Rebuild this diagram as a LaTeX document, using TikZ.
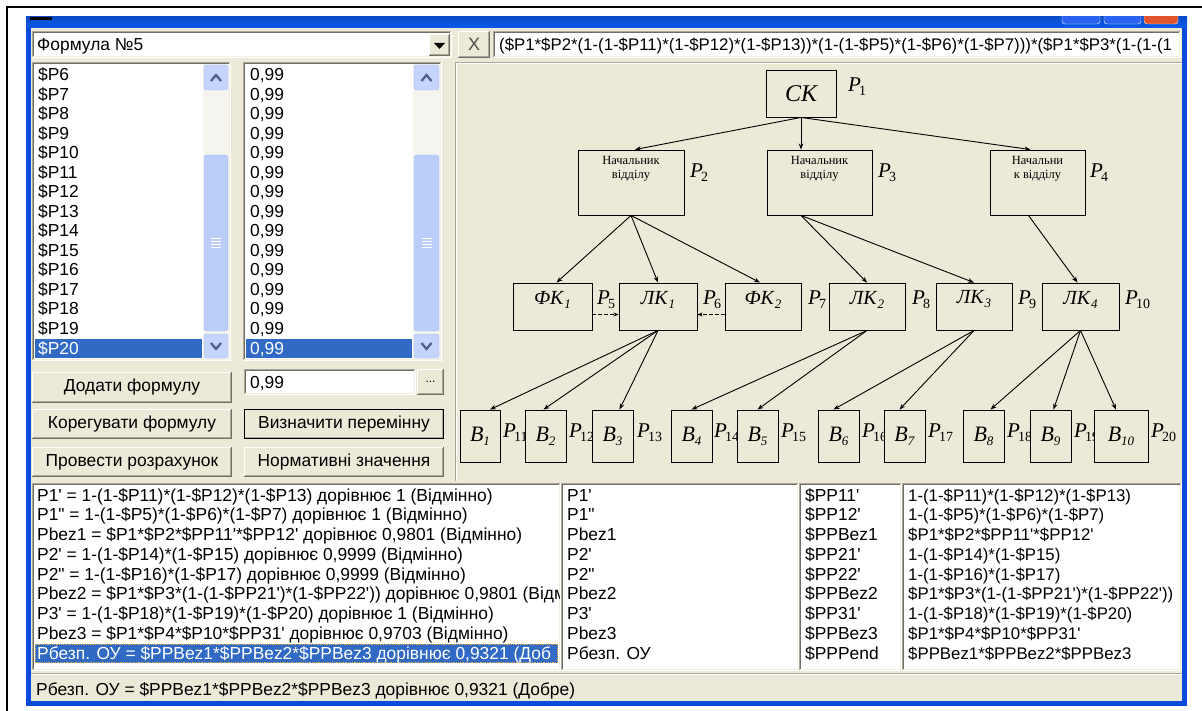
\documentclass[tikz,border=0pt]{standalone}
\usepackage{fontspec}
\setmainfont{Liberation Sans}
\newfontfamily\dfont{Liberation Serif}
\usetikzlibrary{arrows.meta}
\definecolor{winbg}{HTML}{ECE9D8}
\definecolor{xpblue}{HTML}{0A4BDC}
\definecolor{xptitle}{HTML}{0B5AEC}
\definecolor{selblue}{HTML}{316AC5}
\definecolor{sbbtn}{HTML}{C4D4FC}
\definecolor{sbedge}{HTML}{AFC4F3}
\definecolor{sbarrow}{HTML}{4D6185}
\definecolor{sbtrack}{HTML}{F5F4EF}
\definecolor{sbthumb}{HTML}{BBCEFA}
\definecolor{skA}{HTML}{ACA899}
\definecolor{skB}{HTML}{716F64}
\definecolor{skC}{HTML}{F1EFE2}
\definecolor{btnA}{HTML}{716F64}
\definecolor{btnB}{HTML}{ACA899}
\definecolor{focusdot}{HTML}{E6A84A}
\definecolor{closered}{HTML}{E0552B}
\definecolor{minblue}{HTML}{2A63EF}
\newcommand\uif{\fontsize{17.4}{20}\selectfont}
\newcommand\frmf{\fontsize{16.8}{20}\selectfont}
\newcommand\qs{\textquotesingle}
\newcommand\qd{\textquotedbl}
\newcommand\pl[1]{\textit{P}\kern-2pt\raisebox{-4pt}{\fontsize{14}{14}\selectfont #1}}
\newcommand\kb[2]{\textit{#1}\raisebox{-4pt}{\fontsize{13}{13}\selectfont\textit{#2}}}
\newcommand\sunkenbox[4]{%
  \fill[white] (#1,#2) rectangle (#3,#4);
  \draw[line width=1pt,skA] ({#1+0.5},{#4}) -- ({#1+0.5},{#2+0.5}) -- ({#3},{#2+0.5});
  \draw[line width=1pt,skB] ({#1+1.5},{#4-1}) -- ({#1+1.5},{#2+1.5}) -- ({#3-1},{#2+1.5});
  \draw[line width=1pt,white] ({#1},{#4-0.5}) -- ({#3-0.5},{#4-0.5}) -- ({#3-0.5},{#2});
  \draw[line width=1pt,skC] ({#1+1},{#4-1.5}) -- ({#3-1.5},{#4-1.5}) -- ({#3-1.5},{#2+1});
}
\newcommand\raisedbox[4]{%
  \fill[winbg] (#1,#2) rectangle (#3,#4);
  \draw[line width=1pt,white] ({#1+0.5},{#4-1}) -- ({#1+0.5},{#2+0.5}) -- ({#3-1},{#2+0.5});
  \draw[line width=1pt,btnA] ({#1},{#4-0.5}) -- ({#3-0.5},{#4-0.5}) -- ({#3-0.5},{#2});
  \draw[line width=1pt,btnB] ({#1+1},{#4-1.5}) -- ({#3-1.5},{#4-1.5}) -- ({#3-1.5},{#2+1});
}
\newcommand\rbutton[6]{%
  \raisedbox{#2}{#3}{#4}{#5}
  \node[font=\uif, inner sep=0pt] (#1) at ({(#2+#4)/2},{(#3+#5)/2}) {#6};
}
\newcommand\scrollbar[6]{%
  \pgfmathsetmacro\sbxc{(#1+#3)/2}
  \pgfmathsetmacro\sbyc{(#5+#6)/2}
  \fill[sbtrack] (#1,#2) rectangle (#3,#4);
  \draw[sbedge, fill=sbbtn, rounded corners=2.5pt] ({#1+1},{#2+1}) rectangle ({#3-1},{#2+26});
  \draw[sbarrow, line width=2.2pt] ({\sbxc-5},{#2+17}) -- (\sbxc,{#2+11}) -- ({\sbxc+5},{#2+17});
  \draw[sbedge, fill=sbbtn, rounded corners=2.5pt] ({#1+1},{#4-25}) rectangle ({#3-1},{#4-1});
  \draw[sbarrow, line width=2.2pt] ({\sbxc-5},{#4-16}) -- (\sbxc,{#4-10}) -- ({\sbxc+5},{#4-16});
  \draw[sbedge, fill=sbthumb, rounded corners=2.5pt] ({#1+1},{#5}) rectangle ({#3-1},{#6});
  \foreach \k in {-4.5,-1.5,1.5,4.5}{\draw[white, line width=1pt] ({\sbxc-5},{\sbyc+\k}) -- ({\sbxc+5},{\sbyc+\k});}
}
\begin{document}
\begin{tikzpicture}[x=1pt,y=-1pt,
  dbox/.style={draw, line width=0.9pt, fill=winbg, inner sep=0pt},
  arr/.style={-{Stealth[length=6pt,width=4.5pt]}, line width=0.9pt},
  darr/.style={-{Stealth[length=5pt,width=4pt]}, line width=0.9pt, dash pattern=on 4pt off 2pt},
  plab/.style={anchor=base west, inner sep=0pt, font=\dfont\fontsize{21}{21}\selectfont},
  dtxt/.style={inner sep=0pt, font=\dfont\fontsize{12.5}{14}\selectfont, align=center},
  ktxt/.style={inner sep=0pt, font=\dfont\fontsize{20}{20}\selectfont},
  btxt/.style={font=\dfont\fontsize{22}{22}\selectfont},
  lbt/.style={anchor=base west, inner sep=0pt, font=\uif},
]
\useasboundingbox (0,0) rectangle (1202,711);
\fill[white] (0,0) rectangle (1202,711);
% outer black frame
\draw[line width=2pt] (7,711) -- (7,7) -- (1202,7);
% window
\fill[xpblue] (26,17) rectangle (1187,706);
\shade[top color=xptitle!85!black, bottom color=xptitle] (26,17) rectangle (1187,28);
\fill[winbg] (31,28) rectangle (1182,701);
\fill[black] (30,17) rectangle (52,20);
\begin{scope}
  \clip (26,17) rectangle (1187,28);
  \draw[white, fill=minblue, rounded corners=3pt] (1062,6) rectangle (1100,24);
  \draw[white, fill=minblue, rounded corners=3pt] (1104,6) rectangle (1141,24);
  \draw[white, fill=closered, rounded corners=3pt] (1144,6) rectangle (1178,24);
\end{scope}
% combo box
\sunkenbox{32}{31}{452}{58}
\node[lbt] (combo) at (37,51) {Формула №5};
\raisedbox{429}{34}{450}{56}
\fill (434,43) -- (445,43) -- (439.5,49) -- cycle;
% X button
\raisedbox{458}{31}{490}{58}
\node[font=\fontsize{18}{18}\selectfont, text=black!70, inner sep=0pt] (xbtn) at (474,44.5) {X};
% formula field
\sunkenbox{493}{31}{1181}{58}
\begin{scope}
  \clip (496,33) rectangle (1178,56);
  \node[lbt, font=\frmf] (formula) at (499,51) {(\$P1*\$P2*(1-(1-\$P11)*(1-\$P12)*(1-\$P13))*(1-(1-\$P5)*(1-\$P6)*(1-\$P7)))*(\$P1*\$P3*(1-(1-(1};
\end{scope}
% left list
\sunkenbox{32}{62}{231}{361}
\scrollbar{203}{64}{229}{359}{155}{331}
\fill[selblue] (35,338.5) rectangle (202,358);
\foreach \t [count=\k from 0] in {6,7,8,9,10,11,12,13,14,15,16,17,18,19}{
  \node[lbt] (pv\k) at (38,{81+19.5*\k}) {\$P\t};
}
\node[lbt, text=white] (pv14) at (38,354) {\$P20};
% right list
\sunkenbox{243}{62}{442}{361}
\scrollbar{413}{64}{440}{359}{155}{331}
\fill[selblue] (246,338.5) rectangle (412,358);
\foreach \k in {0,...,13}{
  \node[lbt] (vv\k) at (250,{81+19.5*\k}) {0,99};
}
\node[lbt, text=white] (vv14) at (250,354) {0,99};
% edit + buttons
\sunkenbox{244}{369}{416}{395}
\node[lbt] (edit) at (250,388) {0,99};
\rbutton{dots}{417}{369}{444}{395}{\fontsize{12}{12}\selectfont ...}
\rbutton{bAdd}{32}{372}{232}{403}{Додати формулу}
\rbutton{bEdit}{32}{409}{232}{439}{Корегувати формулу}
\rbutton{bDef}{244}{409}{444}{439}{Визначити перемінну}
\draw[line width=1.2pt] (244.6,409.6) rectangle (443.4,438.4);
\rbutton{bCalc}{32}{447}{232}{477}{Провести розрахунок}
\rbutton{bNorm}{244}{447}{444}{477}{Нормативні значення}
% diagram panel
\draw[line width=1pt, skA] (455.5,481) -- (455.5,62.5) -- (1182,62.5);
\draw[line width=1pt, white] (456.5,481) -- (456.5,63.5) -- (1182,63.5);
% ---------- diagram ----------
\node[plab] (lp1) at (848,92) {\pl{1}};
\node[plab] (lp2) at (690,178) {\pl{2}};
\node[plab] (lp3) at (878,178) {\pl{3}};
\node[plab] (lp4) at (1090,178) {\pl{4}};
\node[plab] (lp5) at (597,305) {\pl{5}};
\node[plab] (lp6) at (703,305) {\pl{6}};
\node[plab] (lp7) at (808,305) {\pl{7}};
\node[plab] (lp8) at (912,305) {\pl{8}};
\node[plab] (lp9) at (1018,305) {\pl{9}};
\node[plab] (lp10) at (1125,305) {\pl{10}};
\node[plab] (lp11) at (503,437) {\pl{11}};
\node[plab] (lp12) at (569,437) {\pl{12}};
\node[plab] (lp13) at (637,437) {\pl{13}};
\node[plab] (lp14) at (714,437) {\pl{14}};
\node[plab] (lp15) at (781,437) {\pl{15}};
\node[plab] (lp16) at (862,437) {\pl{16}};
\node[plab] (lp17) at (928,437) {\pl{17}};
\node[plab] (lp18) at (1007,437) {\pl{18}};
\node[plab] (lp19) at (1074,437) {\pl{19}};
\node[plab] (lp20) at (1151,437) {\pl{20}};
\node[dbox, minimum width=70, minimum height=47, font=\dfont\fontsize{24}{24}\selectfont\itshape] (ck) at (801,93.5) {СК};
\node[dbox, minimum width=106, minimum height=65] (n2) at (631,182.5) {};
\node[dbox, minimum width=105, minimum height=65] (n3) at (819.5,182.5) {};
\node[dbox, minimum width=95, minimum height=65] (n4) at (1037.5,182.5) {};
\node[dtxt, anchor=north] (t2) at ([yshift=-7pt]n2.north) {Начальник\\відділу};
\node[dtxt, anchor=north] (t3) at ([yshift=-7pt]n3.north) {Начальник\\відділу};
\node[dtxt, anchor=north] (t4) at ([yshift=-7pt]n4.north) {Начальни\\к відділу};
\node[dbox, minimum width=79, minimum height=47] (f1) at (552.5,306.5) {};
\node[dbox, minimum width=78, minimum height=47] (l1) at (658,306.5) {};
\node[dbox, minimum width=76, minimum height=47] (f2) at (763,306.5) {};
\node[dbox, minimum width=76, minimum height=47] (l2) at (867,306.5) {};
\node[dbox, minimum width=76, minimum height=47] (l3) at (974,306.5) {};
\node[dbox, minimum width=77, minimum height=47] (l4) at (1080.5,306.5) {};
\node[ktxt] (tf1) at ([yshift=7pt]f1.center) {\kb{ФК}{1}};
\node[ktxt] (tl1) at ([yshift=7pt]l1.center) {\kb{ЛК}{1}};
\node[ktxt] (tf2) at ([yshift=7pt]f2.center) {\kb{ФК}{2}};
\node[ktxt] (tl2) at ([yshift=7pt]l2.center) {\kb{ЛК}{2}};
\node[ktxt] (tl3) at ([yshift=7pt]l3.center) {\kb{ЛК}{3}};
\node[ktxt] (tl4) at ([yshift=7pt]l4.center) {\kb{ЛК}{4}};
\node[dbox, btxt, minimum width=40, minimum height=52] (b1) at (480,436) {\kb{B}{1}};
\node[dbox, btxt, minimum width=41, minimum height=52] (b2) at (545.5,436) {\kb{B}{2}};
\node[dbox, btxt, minimum width=41, minimum height=52] (b3) at (612.5,436) {\kb{B}{3}};
\node[dbox, btxt, minimum width=41, minimum height=52] (b4) at (691.5,436) {\kb{B}{4}};
\node[dbox, btxt, minimum width=41, minimum height=52] (b5) at (757.5,436) {\kb{B}{5}};
\node[dbox, btxt, minimum width=41, minimum height=52] (b6) at (838.5,436) {\kb{B}{6}};
\node[dbox, btxt, minimum width=41, minimum height=52] (b7) at (904.5,436) {\kb{B}{7}};
\node[dbox, btxt, minimum width=41, minimum height=52] (b8) at (983.5,436) {\kb{B}{8}};
\node[dbox, btxt, minimum width=41, minimum height=52] (b9) at (1050.5,436) {\kb{B}{9}};
\node[dbox, btxt, minimum width=54, minimum height=52] (b10) at (1121,436) {\kb{B}{10}};
\draw[arr] (ck.south) -- ([xshift=4pt]n2.north);
\draw[arr] (ck.south) -- (ck.south |- n3.north);
\draw[arr] (ck.south) -- ([xshift=-7pt]n4.north);
\draw[arr] (n2.south) -- ([xshift=4pt]f1.north);
\draw[arr] (n2.south) -- (l1.north);
\draw[arr] (n2.south) -- ([xshift=-3pt]f2.north);
\draw[arr] (ck.south |- n3.south) -- (l2.north);
\draw[arr] (ck.south |- n3.south) -- (l3.north);
\draw[arr] ([xshift=-9pt]n4.south) -- ([xshift=-3pt]l4.north);
\draw[darr] ([yshift=-8pt]f1.east) -- ([yshift=-8pt]l1.west);
\draw[darr] ([yshift=-8pt]f2.west) -- ([yshift=-8pt]l1.east);
\draw[arr] (l1.south) -- ([xshift=10pt]b1.north);
\draw[arr] (l1.south) -- ([xshift=-2pt]b2.north);
\draw[arr] (l1.south) -- ([xshift=7pt]b3.north);
\draw[arr] (l2.south) -- (b4.north);
\draw[arr] (l2.south) -- (b5.north);
\draw[arr] (l3.south) -- ([xshift=-5pt]b6.north);
\draw[arr] (l3.south) -- ([xshift=-5pt]b7.north);
\draw[arr] (l4.south) -- ([xshift=7pt]b8.north);
\draw[arr] (l4.south) -- ([xshift=3pt]b9.north);
\draw[arr] (l4.south) -- ([xshift=-5pt]b10.north);
% ---------- bottom lists ----------
\sunkenbox{32}{483}{561}{671}
\sunkenbox{561}{483}{799}{671}
\sunkenbox{799}{483}{902}{671}
\sunkenbox{902}{483}{1182}{671}
\fill[selblue] (35,643.5) rectangle (558,663);
\draw[focusdot, densely dotted, line width=0.8pt] (35.5,644) rectangle (557.5,662.5);
\begin{scope}
  \clip (35,485) rectangle (559,669);
  \foreach \t [count=\k from 0] in {
    {P1\qs{} = 1-(1-\$P11)*(1-\$P12)*(1-\$P13) дорівнює 1 (Відмінно)},
    {P1\qd{} = 1-(1-\$P5)*(1-\$P6)*(1-\$P7) дорівнює 1 (Відмінно)},
    {Pbez1 = \$P1*\$P2*\$PP11\qs*\$PP12\qs{} дорівнює 0,9801 (Відмінно)},
    {P2\qs{} = 1-(1-\$P14)*(1-\$P15) дорівнює 0,9999 (Відмінно)},
    {P2\qd{} = 1-(1-\$P16)*(1-\$P17) дорівнює 0,9999 (Відмінно)},
    {Pbez2 = \$P1*\$P3*(1-(1-\$PP21\qs)*(1-\$PP22\qs)) дорівнює 0,9801 (Відм},
    {P3\qs{} = 1-(1-\$P18)*(1-\$P19)*(1-\$P20) дорівнює 1 (Відмінно)},
    {Pbez3 = \$P1*\$P4*\$P10*\$PP31\qs{} дорівнює 0,9703 (Відмінно)}}{
    \node[lbt] (ra\k) at (37,{501+19.75*\k}) {\t};
  }
  \node[lbt, text=white] (ra8) at (37,659) {Рбезп. ОУ = \$PPBez1*\$PPBez2*\$PPBez3 дорівнює 0,9321 (Доб};
\end{scope}
\foreach \t [count=\k from 0] in {P1\qs, P1\qd, Pbez1, P2\qs, P2\qd, Pbez2, P3\qs, Pbez3, Рбезп. ОУ}{
  \node[lbt] (rb\k) at (567,{501+19.75*\k}) {\t};
}
\foreach \t [count=\k from 0] in {\$PP11\qs, \$PP12\qs, \$PPBez1, \$PP21\qs, \$PP22\qs, \$PPBez2, \$PP31\qs, \$PPBez3, \$PPPend}{
  \node[lbt] (rc\k) at (805,{501+19.75*\k}) {\t};
}
\begin{scope}
  \clip (905,485) rectangle (1180,669);
  \foreach \t [count=\k from 0] in {
    {1-(1-\$P11)*(1-\$P12)*(1-\$P13)},
    {1-(1-\$P5)*(1-\$P6)*(1-\$P7)},
    {\$P1*\$P2*\$PP11\qs*\$PP12\qs},
    {1-(1-\$P14)*(1-\$P15)},
    {1-(1-\$P16)*(1-\$P17)},
    {\$P1*\$P3*(1-(1-\$PP21\qs)*(1-\$PP22\qs))},
    {1-(1-\$P18)*(1-\$P19)*(1-\$P20)},
    {\$P1*\$P4*\$P10*\$PP31\qs},
    {\$PPBez1*\$PPBez2*\$PPBez3}}{
    \node[lbt, font=\frmf] (rd\k) at (908,{501+19.75*\k}) {\t};
  }
\end{scope}
% status bar
\draw[line width=1pt, skA] (31,673.5) -- (1182,673.5);
\draw[line width=1pt, white] (31,674.5) -- (1182,674.5);
\node[lbt] (status) at (36,695) {Рбезп. ОУ = \$PPBez1*\$PPBez2*\$PPBez3 дорівнює 0,9321 (Добре)};
\end{tikzpicture}
\end{document}
